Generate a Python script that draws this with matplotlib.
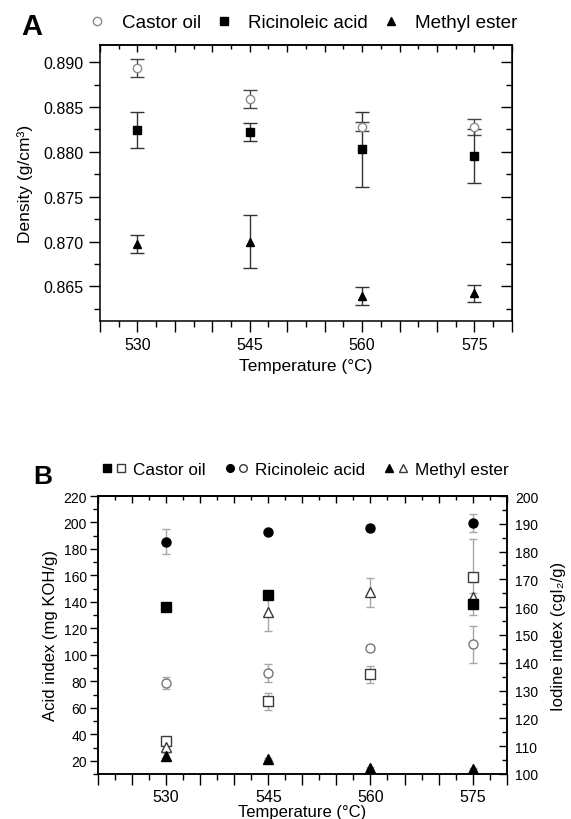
import numpy as np
import matplotlib
matplotlib.use("Agg")
import matplotlib.pyplot as plt
from matplotlib.ticker import MultipleLocator, FuncFormatter
from matplotlib.legend_handler import HandlerTuple
from matplotlib.lines import Line2D

plt.rcParams['font.family'] = ['Liberation Sans', 'DejaVu Sans']

temps = [530, 545, 560, 575]

# panel A - density (g/cm3)
dens_castor = [0.8894, 0.8859, 0.8828, 0.8828]
dens_castor_err = [0.0010, 0.0010, 0.0005, 0.0009]
dens_ricin = [0.8824, 0.8822, 0.8803, 0.8795]
dens_ricin_err = [0.0020, 0.0010, 0.0042, 0.0030]
dens_ester = [0.8697, 0.8700, 0.8639, 0.8642]
dens_ester_err = [0.0010, 0.0030, 0.0010, 0.0010]

# panel B - acid index (filled, left axis)
acid_castor = [135.8, 145.5, np.nan, 138.3]
acid_castor_err = [1.5, 1.5, 0.0, 2.0]
acid_ricin = [185.6, 193.1, 195.6, 199.6]
acid_ricin_err = [9.5, 1.5, 2.0, 6.7]
acid_ester = [23.8, 21.3, 14.5, 13.8]
acid_ester_err = [2.0, 1.0, 1.0, 1.0]

# panel B - iodine index (open, right axis)
iod_castor = [112.0, 126.1, 135.9, 171.0]
iod_castor_err = [1.0, 3.2, 3.0, 13.7]
iod_ricin = [132.6, 136.2, 145.5, 146.7]
iod_ricin_err = [2.2, 3.2, 1.0, 6.6]
iod_ester = [109.8, 158.1, 165.3, 163.5]
iod_ester_err = [1.5, 6.6, 5.2, 1.5]

labels = ["Castor oil", "Ricinoleic acid", "Methyl ester"]


def temp_fmt(v, pos):
    return f"{v:.0f}" if int(round(v)) in temps else ""


def style_x(ax, tick_fs):
    ax.xaxis.set_major_locator(MultipleLocator(5))
    ax.xaxis.set_minor_locator(MultipleLocator(2.5))
    ax.xaxis.set_major_formatter(FuncFormatter(temp_fmt))
    ax.tick_params(axis='x', which='major', direction='out', length=8, width=1,
                   labelsize=tick_fs, pad=3)
    ax.tick_params(axis='x', which='minor', direction='out', length=4.5, width=1)
    top = ax.secondary_xaxis('top')
    top.xaxis.set_major_locator(MultipleLocator(5))
    top.xaxis.set_minor_locator(MultipleLocator(2.5))
    top.tick_params(which='major', direction='in', length=5, width=1, labeltop=False)
    top.tick_params(which='minor', direction='in', length=3, width=1)
    top.spines['top'].set_linewidth(1.1)


fig = plt.figure(figsize=(5.71, 8.2), dpi=100)

# ---------------- panel A ----------------
axA = fig.add_axes([0.175, 0.607, 0.7215, 0.3366])
ebA = dict(capsize=4.8, elinewidth=1, capthick=1, ms=6, zorder=3)
axA.errorbar(temps, dens_castor, yerr=dens_castor_err, fmt='o', mfc='white',
             mec='#8c8c8c', ecolor='#444444', **ebA)
axA.errorbar(temps, dens_ricin, yerr=dens_ricin_err, fmt='s', color='black',
             ecolor='#333333', **ebA)
axA.errorbar(temps, dens_ester, yerr=dens_ester_err, fmt='^', color='black',
             ecolor='#333333', **ebA)
axA.set_xlim(525, 580)
axA.set_ylim(0.8611, 0.8919)
style_x(axA, 11.5)
axA.yaxis.set_major_locator(MultipleLocator(0.005))
axA.yaxis.set_minor_locator(MultipleLocator(0.0025))
axA.yaxis.set_major_formatter(FuncFormatter(lambda v, p: f"{v:.3f}"))
axA.tick_params(axis='y', which='major', direction='out', length=8, width=1, labelsize=11.5)
axA.tick_params(axis='y', which='minor', direction='out', length=4.5, width=1)
rA = axA.secondary_yaxis('right')
rA.yaxis.set_major_locator(MultipleLocator(0.005))
rA.yaxis.set_minor_locator(MultipleLocator(0.0025))
rA.tick_params(which='major', direction='in', length=8, width=1, labelright=False)
rA.tick_params(which='minor', direction='in', length=4.5, width=1)
for s in axA.spines.values():
    s.set_linewidth(1.1)
axA.set_xlabel("Temperature (°C)", fontsize=12.5, labelpad=5)
axA.set_ylabel("Density (g/cm³)", fontsize=12.5, labelpad=8)

legA = [Line2D([], [], ls='none', marker='o', mfc='white', mec='#8c8c8c', ms=6),
        Line2D([], [], ls='none', marker='s', color='black', ms=6),
        Line2D([], [], ls='none', marker='^', color='black', ms=6)]
fig.legend(legA, labels, loc='center', bbox_to_anchor=(0.53, 0.971), ncol=3,
           frameon=False, fontsize=13.6, handlelength=1.0, handletextpad=0.8,
           columnspacing=0.7)
fig.text(0.038, 0.967, "A", fontsize=21, fontweight='bold', va='center')

# ---------------- panel B ----------------
axB = fig.add_axes([0.1716, 0.0549, 0.7158, 0.339])
axB2 = axB.twinx()
axB.set_zorder(axB2.get_zorder() + 1)
axB.patch.set_visible(False)
ebB = dict(capsize=3, elinewidth=1, capthick=1, ms=6.5, ecolor='#a8a8a8')
axB.errorbar(temps, acid_castor, yerr=acid_castor_err, fmt='s', color='black', zorder=3, **ebB)
axB.errorbar(temps, acid_ricin, yerr=acid_ricin_err, fmt='o', color='black', zorder=3, **ebB)
axB.errorbar(temps, acid_ester, yerr=acid_ester_err, fmt='^', color='black', zorder=3, **ebB)
axB2.errorbar(temps, iod_castor, yerr=iod_castor_err, fmt='s', mfc='white', mec='#3a3a3a', **ebB)
axB2.errorbar(temps, iod_ricin, yerr=iod_ricin_err, fmt='o', mfc='white', mec='#777777', **ebB)
axB2.errorbar(temps, iod_ester, yerr=iod_ester_err, fmt='^', mfc='white', mec='#3a3a3a', **ebB)
axB.set_xlim(520, 580)
axB.set_ylim(10, 220)
axB2.set_ylim(100, 200)
style_x(axB, 11.5)
axB.yaxis.set_major_locator(MultipleLocator(20))
axB.yaxis.set_minor_locator(MultipleLocator(10))
axB.tick_params(axis='y', which='major', direction='out', length=6, width=1, labelsize=10, pad=2)
axB.tick_params(axis='y', which='minor', direction='out', length=3.5, width=1)
axB2.yaxis.set_major_locator(MultipleLocator(10))
axB2.yaxis.set_minor_locator(MultipleLocator(5))
axB2.tick_params(axis='y', which='major', direction='in', length=6, width=1, labelsize=10, pad=6)
axB2.tick_params(axis='y', which='minor', direction='in', length=3.5, width=1)
for s in list(axB.spines.values()) + list(axB2.spines.values()):
    s.set_linewidth(1.1)
axB.set_xlabel("Temperature (°C)", fontsize=12, labelpad=0)
axB.set_ylabel("Acid index (mg KOH/g)", fontsize=12, labelpad=4)
axB2.set_ylabel("Iodine index (cgI₂/g)", fontsize=12, labelpad=9)

legB = [(Line2D([], [], ls='none', marker='s', color='black', ms=5.5),
         Line2D([], [], ls='none', marker='s', mfc='white', mec='#3a3a3a', ms=5.5)),
        (Line2D([], [], ls='none', marker='o', color='black', ms=5.5),
         Line2D([], [], ls='none', marker='o', mfc='white', mec='#3a3a3a', ms=5.5)),
        (Line2D([], [], ls='none', marker='^', color='black', ms=5.5),
         Line2D([], [], ls='none', marker='^', mfc='white', mec='#3a3a3a', ms=5.5))]
fig.legend(legB, labels, loc='center', bbox_to_anchor=(0.535, 0.426), ncol=3,
           frameon=False, fontsize=12.3, handlelength=1.4, handletextpad=0.4,
           columnspacing=1.1, handler_map={tuple: HandlerTuple(ndivide=None, pad=0.2)})
fig.text(0.058, 0.418, "B", fontsize=19, fontweight='bold', va='center')

fig.savefig("out.png", dpi=100, facecolor='white')
